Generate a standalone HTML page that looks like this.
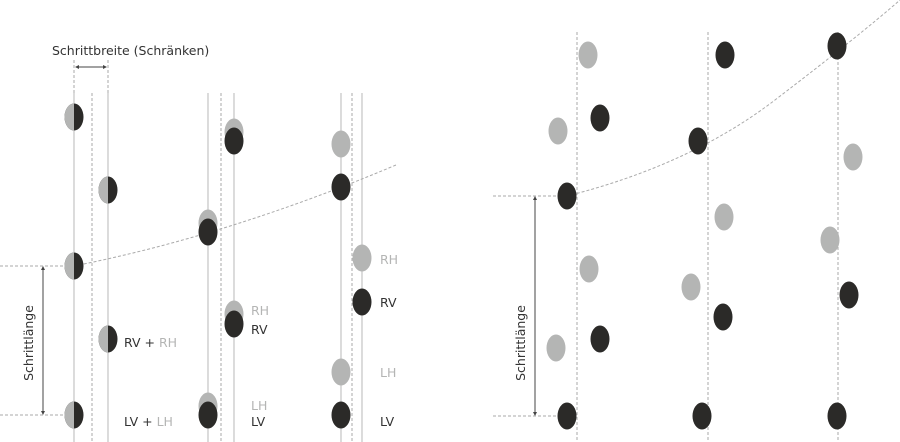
<!DOCTYPE html>
<html><head><meta charset="utf-8"><style>html,body{margin:0;padding:0;background:#fff}svg{display:block}</style></head>
<body>
<svg width="900" height="442" viewBox="0 0 900 442" xmlns="http://www.w3.org/2000/svg" font-family="DejaVu Sans, Liberation Sans, sans-serif">
<defs>
<g id="half">
<ellipse cx="0" cy="0" rx="9.5" ry="13.5" fill="#2b2a28"/>
<path d="M0,-13.5 A9.5,13.5 0 0 0 0,13.5 Z" fill="#b4b5b4"/>
</g>
</defs>
<g stroke="#c8c8c8" stroke-width="1.3">
<line x1="74" y1="93" x2="74" y2="442"/><line x1="108" y1="93" x2="108" y2="442"/>
<line x1="208" y1="93" x2="208" y2="442"/><line x1="234" y1="93" x2="234" y2="442"/>
<line x1="341" y1="93" x2="341" y2="442"/><line x1="362" y1="93" x2="362" y2="442"/>
</g>
<g stroke="#aaa" stroke-width="1" stroke-dasharray="3,2" fill="none">
<line x1="92" y1="93" x2="92" y2="442"/><line x1="221" y1="93" x2="221" y2="442"/><line x1="352" y1="93" x2="352" y2="442"/>
<line x1="74" y1="60" x2="74" y2="93"/><line x1="108" y1="60" x2="108" y2="93"/>
<line x1="0" y1="266" x2="74" y2="266"/><line x1="0" y1="415" x2="74" y2="415"/>
<path d="M74,266 Q230,235 396,165"/>
<line x1="577" y1="32" x2="577" y2="442"/><line x1="708" y1="32" x2="708" y2="442"/><line x1="838" y1="32" x2="838" y2="442"/>
<line x1="493" y1="196" x2="567" y2="196"/><line x1="493" y1="416" x2="567" y2="416"/>
<path d="M567,196 Q690,165 775,100 T900,0"/>
</g>
<g stroke="#444" stroke-width="1" fill="#444">
<line x1="76" y1="67" x2="106" y2="67"/>
<path d="M75,67 l4,-2 v4z M107,67 l-4,-2 v4z" stroke="none"/>
<line x1="43" y1="268" x2="43" y2="413"/>
<path d="M43,266 l-2,4 h4z M43,415 l-2,-4 h4z" stroke="none"/>
<line x1="535" y1="198" x2="535" y2="414"/>
<path d="M535,196 l-2,4 h4z M535,416 l-2,-4 h4z" stroke="none"/>
</g>
<use href="#half" x="74" y="117"/><use href="#half" x="108" y="190"/><use href="#half" x="74" y="266"/>
<use href="#half" x="108" y="339"/><use href="#half" x="74" y="415"/>
<g fill="#b4b5b4">
<ellipse cx="234" cy="132" rx="9.5" ry="13.5"/><ellipse cx="208" cy="223" rx="9.5" ry="13.5"/>
<ellipse cx="234" cy="314" rx="9.5" ry="13.5"/><ellipse cx="208" cy="406" rx="9.5" ry="13.5"/>
<ellipse cx="341" cy="144" rx="9.5" ry="13.5"/><ellipse cx="362" cy="258" rx="9.5" ry="13.5"/>
<ellipse cx="341" cy="372" rx="9.5" ry="13.5"/>
<ellipse cx="588" cy="55" rx="9.5" ry="13.5"/><ellipse cx="558" cy="131" rx="9.5" ry="13.5"/>
<ellipse cx="853" cy="157" rx="9.5" ry="13.5"/><ellipse cx="724" cy="217" rx="9.5" ry="13.5"/>
<ellipse cx="830" cy="240" rx="9.5" ry="13.5"/><ellipse cx="589" cy="269" rx="9.5" ry="13.5"/>
<ellipse cx="691" cy="287" rx="9.5" ry="13.5"/><ellipse cx="556" cy="348" rx="9.5" ry="13.5"/>
</g>
<g fill="#2b2a28">
<ellipse cx="234" cy="141" rx="9.5" ry="13.5"/><ellipse cx="208" cy="232" rx="9.5" ry="13.5"/>
<ellipse cx="234" cy="324" rx="9.5" ry="13.5"/><ellipse cx="208" cy="415" rx="9.5" ry="13.5"/>
<ellipse cx="341" cy="187" rx="9.5" ry="13.5"/><ellipse cx="362" cy="302" rx="9.5" ry="13.5"/>
<ellipse cx="341" cy="415" rx="9.5" ry="13.5"/>
<ellipse cx="725" cy="55" rx="9.5" ry="13.5"/><ellipse cx="837" cy="46" rx="9.5" ry="13.5"/>
<ellipse cx="600" cy="118" rx="9.5" ry="13.5"/><ellipse cx="698" cy="141" rx="9.5" ry="13.5"/>
<ellipse cx="567" cy="196" rx="9.5" ry="13.5"/><ellipse cx="849" cy="295" rx="9.5" ry="13.5"/>
<ellipse cx="723" cy="317" rx="9.5" ry="13.5"/><ellipse cx="600" cy="339" rx="9.5" ry="13.5"/>
<ellipse cx="567" cy="416" rx="9.5" ry="13.5"/><ellipse cx="702" cy="416" rx="9.5" ry="13.5"/>
<ellipse cx="837" cy="416" rx="9.5" ry="13.5"/>
</g>
<g font-size="12.5" fill="#333">
<text x="52" y="55">Schrittbreite (Schränken)</text>
<text x="124" y="347">RV + <tspan fill="#b4b5b4">RH</tspan></text>
<text x="124" y="426">LV + <tspan fill="#b4b5b4">LH</tspan></text>
<text x="251" y="315" fill="#b4b5b4">RH</text>
<text x="251" y="334">RV</text>
<text x="251" y="410" fill="#b4b5b4">LH</text>
<text x="251" y="426">LV</text>
<text x="380" y="264" fill="#b4b5b4">RH</text>
<text x="380" y="307">RV</text>
<text x="380" y="377" fill="#b4b5b4">LH</text>
<text x="380" y="426">LV</text>
<text transform="translate(33,343) rotate(-90)" text-anchor="middle">Schrittlänge</text>
<text transform="translate(525,343) rotate(-90)" text-anchor="middle">Schrittlänge</text>
</g>
</svg>
</body></html>
